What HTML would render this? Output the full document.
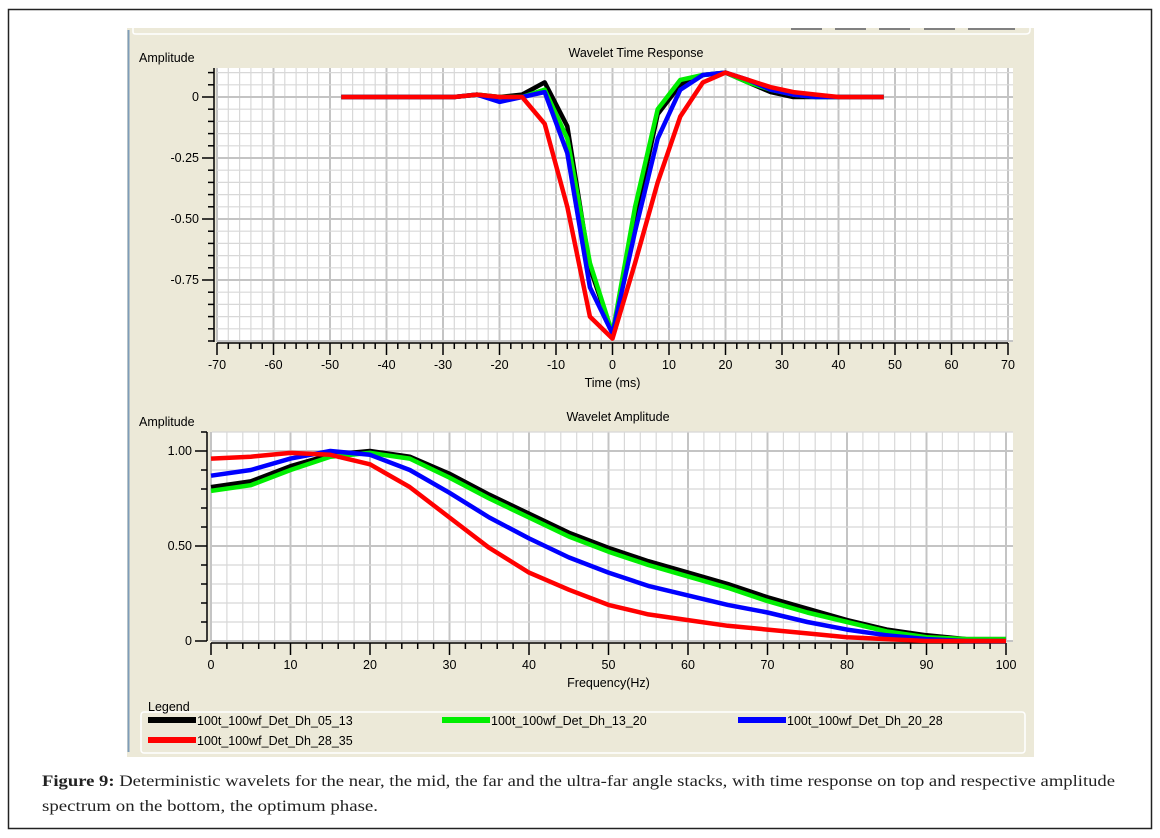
<!DOCTYPE html>
<html><head><meta charset="utf-8"><style>
html,body{margin:0;padding:0;background:#fff;}
svg{display:block;font-family:"Liberation Sans",sans-serif;}
</style></head><body>
<svg id="chart" width="1160" height="838" viewBox="0 0 1160 838">
<rect x="8.5" y="9.5" width="1143" height="819" fill="#fff" stroke="#222" stroke-width="1.5"/>
<rect x="127" y="28" width="907" height="729" fill="#ece9d8"/>
<line x1="128.5" y1="30" x2="128.5" y2="752" stroke="#7f9db9" stroke-width="2"/>
<path d="M133 28 V32 Q133 34 136 34 H1026 Q1030 34 1030 30 V28" fill="none" stroke="#fff" stroke-width="1.5"/>
<g fill="#808080">
<rect x="791" y="28" width="31" height="2"/><rect x="835" y="28" width="31" height="2"/><rect x="879" y="28" width="31" height="2"/><rect x="924" y="28" width="31" height="2"/><rect x="968" y="28" width="47" height="2"/>
</g>
<g id="top"></g>
<g id="bot"></g>
<g id="legend"></g>
<text x="42" y="786" font-family="Liberation Serif,serif" font-size="16" textLength="1073" lengthAdjust="spacingAndGlyphs" fill="#222"><tspan font-weight="bold">Figure 9:</tspan> Deterministic wavelets for the near, the mid, the far and the ultra-far angle stacks, with time response on top and respective amplitude</text>
<text x="42" y="811" font-family="Liberation Serif,serif" font-size="16" textLength="336" lengthAdjust="spacingAndGlyphs" fill="#222">spectrum on the bottom, the optimum phase.</text>
</svg>
<script>
const seriesNames = ["100t_100wf_Det_Dh_05_13","100t_100wf_Det_Dh_13_20","100t_100wf_Det_Dh_20_28","100t_100wf_Det_Dh_28_35"];
const seriesColors = ["#000000","#00ee00","#0000ff","#ff0000"];
const timeMs = [-48,-44,-40,-36,-32,-28,-24,-20,-16,-12,-8,-4,0,4,8,12,16,20,24,28,32,36,40,44,48];
const timeBlack = [0,0,0,0,0,0,0.01,0,0.01,0.06,-0.12,-0.7,-0.97,-0.5,-0.07,0.05,0.09,0.1,0.06,0.02,0,0,0,0,0];
const timeGreen = [0,0,0,0,0,0,0.01,0,0,0.03,-0.17,-0.68,-0.97,-0.45,-0.05,0.07,0.09,0.1,0.06,0.03,0.01,0,0,0,0];
const timeBlue = [0,0,0,0,0,0,0.01,-0.02,0,0.02,-0.23,-0.78,-0.97,-0.55,-0.17,0.03,0.09,0.1,0.07,0.03,0.01,0,0,0,0];
const timeRed = [0,0,0,0,0,0,0.01,0,0,-0.11,-0.45,-0.9,-0.99,-0.68,-0.35,-0.08,0.06,0.1,0.07,0.04,0.02,0.01,0,0,0];
const freqHz = [0,5,10,15,20,25,30,35,40,45,50,55,60,65,70,75,80,85,90,95,100];
const ampBlack = [0.81,0.84,0.92,0.98,1.0,0.97,0.88,0.77,0.67,0.57,0.49,0.42,0.36,0.30,0.23,0.17,0.11,0.06,0.03,0.01,0.01];
const ampGreen = [0.79,0.82,0.90,0.97,0.99,0.96,0.86,0.75,0.65,0.55,0.47,0.40,0.34,0.28,0.21,0.15,0.10,0.05,0.02,0.01,0.01];
const ampBlue = [0.87,0.90,0.96,1.0,0.98,0.90,0.78,0.65,0.54,0.44,0.36,0.29,0.24,0.19,0.15,0.10,0.06,0.03,0.01,0,0];
const ampRed = [0.96,0.97,0.99,0.98,0.93,0.81,0.65,0.49,0.36,0.27,0.19,0.14,0.11,0.08,0.06,0.04,0.02,0.01,0,0,0];
const timeTicks = [-70,-60,-50,-40,-30,-20,-10,0,10,20,30,40,50,60,70];
const timeYTicks = [0,-0.25,-0.5,-0.75];
const timeYLabels = ["0","-0.25","-0.50","-0.75"];
const freqTicks = [0,10,20,30,40,50,60,70,80,90,100];
const ampYTicks = [1,0.5,0];
const ampYLabels = ["1.00","0.50","0"];

const NS="http://www.w3.org/2000/svg";
function mk(p,tag,a){const e=document.createElementNS(NS,tag);for(const k in a)e.setAttribute(k,a[k]);p.appendChild(e);return e;}

function chart(g,o){
  const X=v=>o.x0+(v-o.xmin)/(o.xmax-o.xmin)*(o.x1-o.x0);
  const Y=v=>o.yb+(v-o.ybv)/(o.ytv-o.ybv)*(o.yt-o.yb);
  const bg=mk(g,'rect',{x:o.gl,y:o.gt,width:o.gr-o.gl,height:o.gb-o.gt,fill:'#fff'});
  
  
  const grid=mk(g,'g',{});
  
  
  for(let v=o.xmin;v<=o.xmax+1e-9;v+=o.xminor){const px=X(v);if(px<o.gl-1||px>o.gr+1)continue;
    const maj=Math.abs(Math.round(v/o.xmaj)*o.xmaj-v)<1e-6;
    mk(grid,'line',{x1:px,x2:px,y1:o.gt,y2:o.gb,stroke:maj?'#c4c4c4':'#d8d8d8','stroke-width':maj?2:1.2});}
  for(let v=o.ygmin;v<=o.ygmax+1e-9;v+=o.yminor){const py=Y(v);if(py<o.gt-1||py>o.gb+1)continue;
    const maj=Math.abs(Math.round(v/o.ymaj)*o.ymaj-v)<1e-6;
    mk(grid,'line',{x1:o.gl,x2:o.gr,y1:py,y2:py,stroke:maj?'#c4c4c4':'#d8d8d8','stroke-width':maj?2:1.2});}
  // axes
  const ax=mk(g,'g',{stroke:'#000','stroke-width':1.5,fill:'none'});
  
  
  mk(ax,'line',{x1:X(o.xmin),x2:X(o.xmax),y1:o.xa,y2:o.xa});
  for(let v=o.xmin;v<=o.xmax+1e-9;v+=o.xminor){const maj=Math.abs(Math.round(v/o.xmaj)*o.xmaj-v)<1e-6;
    mk(ax,'line',{x1:X(v),x2:X(v),y1:o.xa,y2:o.xa+(maj?12:6)});}
  mk(ax,'line',{x1:o.ya,x2:o.ya,y1:o.gt,y2:o.gb});
  for(let v=o.ygmin;v<=o.ygmax+1e-9;v+=o.yminor){const py=Y(v);if(py<o.gt||py>o.gb)continue;
    const maj=o.yt2.some(t=>Math.abs(t-v)<1e-6);
    mk(ax,'line',{x1:o.ya-(maj?12:6),x2:o.ya,y1:py,y2:py});}
  o.xt.forEach(v=>{const t=mk(g,'text',{x:X(v),y:o.xa+26,'font-size':12.5,'text-anchor':'middle',fill:'#000'});t.textContent=v;
    
    });
  o.yt2.forEach((v,i)=>{const t=mk(g,'text',{x:o.ya-15,y:Y(v)+4,'font-size':12.5,'text-anchor':'end',fill:'#000'});t.textContent=o.yl[i];
    
    });
  let t=mk(g,'text',{x:(X(o.xmin)+X(o.xmax))/2,y:o.xa+44,'font-size':12.5,'text-anchor':'middle'});t.textContent=o.xtitle;
  
  
  t=mk(g,'text',{x:139,y:o.gt-6,'font-size':12.5});t.textContent='Amplitude';
  
  
  t=mk(g,'text',{x:o.titleX,y:o.gt-11,'font-size':12.5,'text-anchor':'middle'});t.textContent=o.title;
  
  
  o.series.forEach((s,i)=>{const d=s.map((v,j)=>(j?'L':'M')+X(o.xs[j]).toFixed(1)+' '+Y(v).toFixed(1)).join(' ');
    const p=mk(g,'path',{d:d,fill:'none',stroke:seriesColors[i],'stroke-width':4.5,'stroke-linejoin':'round'});
    
    });
}
chart(document.getElementById('top'),{xmin:-70,xmax:70,x0:217,x1:1008,ytv:0,ybv:-0.75,yt:97,yb:280,
  gl:217,gr:1013,gt:68,gb:342,xa:343,ya:214,xminor:2,xmaj:10,ygmin:-1.2,ygmax:0.15,yminor:0.05,ymaj:0.25,
  xt:timeTicks,yt2:timeYTicks,yl:timeYLabels,xtitle:'Time (ms)',title:'Wavelet Time Response',titleX:636,
  xs:timeMs,series:[timeBlack,timeGreen,timeBlue,timeRed]});
chart(document.getElementById('bot'),{xmin:0,xmax:100,x0:211,x1:1006,ytv:1,ybv:0,yt:451,yb:641,
  gl:212,gr:1013,gt:432,gb:641,xa:643,ya:207,xminor:2,xmaj:10,ygmin:-0.3,ygmax:1.2,yminor:0.1,ymaj:0.5,
  xt:freqTicks,yt2:ampYTicks,yl:ampYLabels,xtitle:'Frequency(Hz)',title:'Wavelet Amplitude',titleX:618,
  xs:freqHz,series:[ampBlack,ampGreen,ampBlue,ampRed]});
// legend
const lg=document.getElementById('legend');
mk(lg,'rect',{x:141,y:712,width:884,height:41,rx:3,fill:'none',stroke:'#fff','stroke-width':1.5});
let lt=mk(lg,'text',{x:148,y:711,'font-size':12.5});lt.textContent='Legend';


const lpos=[[148,720],[442,720],[738,720],[148,740]];
seriesNames.forEach((n,i)=>{const gg=mk(lg,'g',{});
  
  
  mk(gg,'rect',{x:lpos[i][0],y:lpos[i][1]-3,width:48,height:6,fill:seriesColors[i]});
  const t=mk(gg,'text',{x:lpos[i][0]+49,y:lpos[i][1]+5,'font-size':12.5});t.textContent=n;});
</script>
</body></html>
